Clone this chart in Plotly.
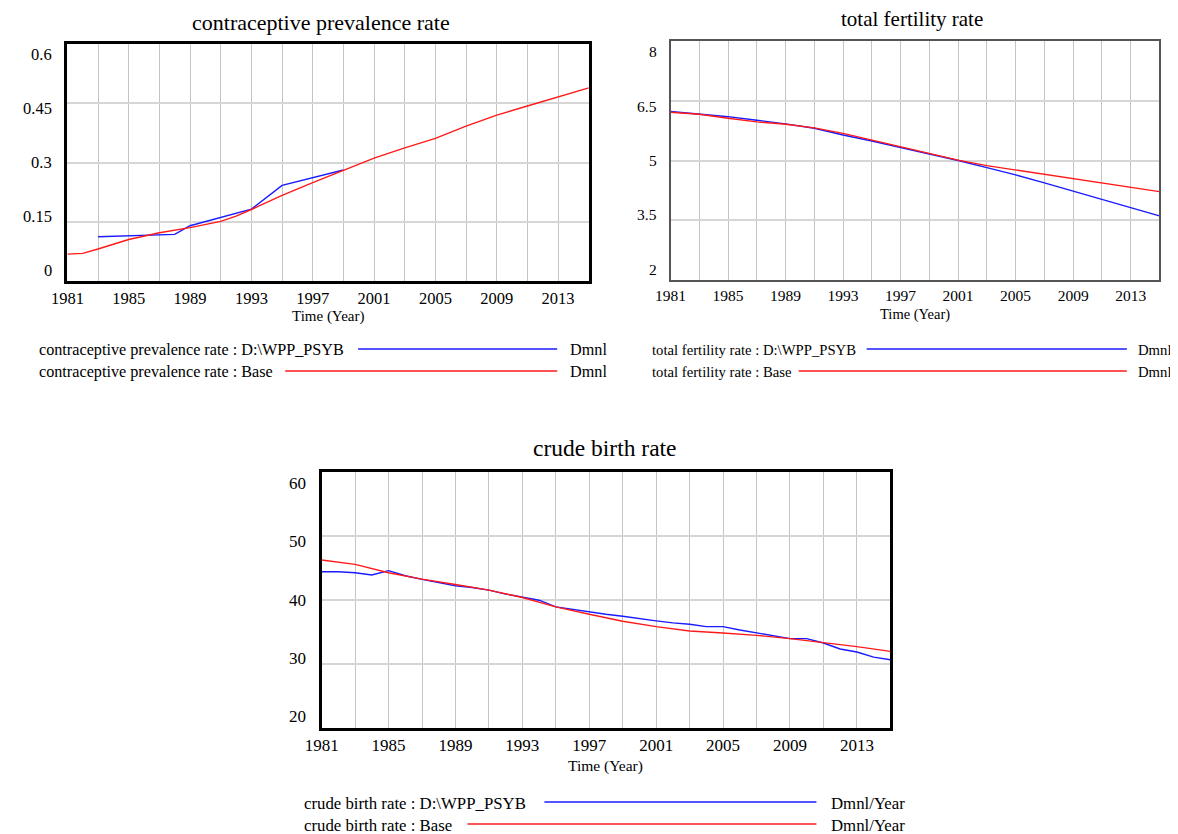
import plotly.graph_objects as go

# ---------------- data ----------------
x_tick_labels = [1981, 1985, 1989, 1993, 1997, 2001, 2005, 2009, 2013]

cpr_ticks = [0, 0.15, 0.3, 0.45, 0.6]
cpr_tick_text = ["0", "0.15", "0.3", "0.45", "0.6"]
cpr_base_years = [1981, 1982, 1983, 1985, 1987, 1988, 1989, 1991, 1992, 1993, 1995,
                  1997, 1999, 2001, 2003, 2005, 2007, 2009, 2011, 2013, 2015]
cpr_base = [0.068, 0.070, 0.081, 0.105, 0.122, 0.128, 0.135, 0.151, 0.164, 0.181, 0.217,
            0.249, 0.279, 0.311, 0.337, 0.361, 0.392, 0.420, 0.443, 0.466, 0.489]
cpr_psyb_years = [1983, 1988, 1989, 1993, 1995, 1999]
cpr_psyb = [0.112, 0.118, 0.140, 0.182, 0.242, 0.281]

tfr_ticks = [2, 3.5, 5, 6.5, 8]
tfr_tick_text = ["2", "3.5", "5", "6.5", "8"]
tfr_years = [1981, 1983, 1985, 1987, 1989, 1991, 1993, 1995, 1997,
             1999, 2001, 2003, 2005, 2007, 2009, 2011, 2013, 2015]
tfr_base = [6.21, 6.16, 6.06, 5.97, 5.91, 5.82, 5.68, 5.51, 5.35,
            5.18, 5.01, 4.87, 4.76, 4.65, 4.54, 4.43, 4.33, 4.22]
tfr_psyb = [6.23, 6.17, 6.10, 6.01, 5.92, 5.81, 5.64, 5.49, 5.33,
            5.17, 5.00, 4.82, 4.64, 4.44, 4.23, 4.03, 3.82, 3.61]

cbr_ticks = [20, 30, 40, 50, 60]
cbr_tick_text = ["20", "30", "40", "50", "60"]
cbr_base_years = tfr_years
cbr_base = [46.25, 45.57, 44.26, 43.27, 42.43, 41.54, 40.39, 38.93, 37.78,
            36.68, 35.84, 35.16, 34.85, 34.48, 33.96, 33.39, 32.71, 31.97]
cbr_psyb_years = list(range(1981, 2016))
cbr_psyb = [44.42, 44.42, 44.26, 43.90, 44.58, 43.79, 43.22, 42.75, 42.22, 41.96,
            41.54, 40.92, 40.39, 39.97, 38.93, 38.51, 38.20, 37.78, 37.46, 37.05,
            36.73, 36.42, 36.20, 35.84, 35.84, 35.32, 34.85, 34.43, 33.96, 33.96,
            33.28, 32.34, 31.87, 31.08, 30.67]

run_psyb = "D:\\WPP_PSYB"
run_base = "Base"

# ---------------- layout helpers ----------------
W, H = 1178, 834
OFF = 8  # the page body adds an 8px margin around the figure
FONT = "Liberation Serif, Times New Roman, serif"
BLUE = "#1a1aff"
RED = "#ff1a1a"


def px(x):
    return (x - OFF) / W


def py(y):
    return 1 - (y - OFF) / H


panels = [
    dict(name="contraceptive prevalence rate", box=(51, 580, 44, 281), rng=(0, 0.6),
         ticks=cpr_ticks, tt=cpr_tick_text, border="#000000", bw=3,
         title_xy=(308, 22), title_size=22, tick_size=16.5, time_size=15, time_y=317,
         ylab_shift=13,
         series=[(cpr_psyb_years, cpr_psyb, BLUE), (cpr_base_years, cpr_base, RED)],
         legend=dict(tx=20, rows=(350, 372), blue=(346, 548), red=(272, 548), unit_x=559,
                     unit="Dmnl", size=16.2)),
    dict(name="total fertility rate", box=(663, 1159, 41, 280), rng=(2, 8),
         ticks=tfr_ticks, tt=tfr_tick_text, border="#555555", bw=2,
         title_xy=(908, 19), title_size=21, tick_size=15.5, time_size=14.5, time_y=315,
         ylab_shift=12,
         series=[(tfr_years, tfr_psyb, BLUE), (tfr_years, tfr_base, RED)],
         legend=dict(tx=642, rows=(350, 372), blue=(862, 1126), red=(793, 1126), unit_x=1135,
                     unit="Dmnl", size=14.7)),
    dict(name="crude birth rate", box=(309, 886, 472, 728), rng=(20, 60),
         ticks=cbr_ticks, tt=cbr_tick_text, border="#000000", bw=3,
         title_xy=(596, 448), title_size=23.5, tick_size=17, time_size=15.5, time_y=766,
         ylab_shift=14,
         series=[(cbr_psyb_years, cbr_psyb, BLUE), (cbr_base_years, cbr_base, RED)],
         legend=dict(tx=289, rows=(803, 825), blue=(535, 811), red=(457, 811), unit_x=824,
                     unit="Dmnl/Year", size=16.8)),
]

fig = go.Figure()
annotations = []
shapes = []
layout = {}

for i, p in enumerate(panels):
    sfx = "" if i == 0 else str(i + 1)
    xa, ya = "x" + sfx, "y" + sfx
    x0, x1, y0, y1 = p["box"]
    for (xs, ys, col) in p["series"]:
        fig.add_trace(go.Scatter(x=xs, y=ys, mode="lines", xaxis=xa, yaxis=ya,
                                 line=dict(color=col, width=1.4), showlegend=False,
                                 hoverinfo="skip"))
    layout["xaxis" + sfx] = dict(
        domain=[px(x0), px(x1)], anchor=ya, range=[1981, 2015],
        tickmode="array", tickvals=x_tick_labels, ticktext=[str(v) for v in x_tick_labels],
        ticks="", showgrid=True, gridcolor="#c4c4c4", gridwidth=1,
        minor=dict(tickmode="linear", tick0=1981, dtick=2, showgrid=True,
                   gridcolor="#c4c4c4", gridwidth=1, ticks=""),
        showline=True, mirror=True, linecolor=p["border"], linewidth=p["bw"],
        zeroline=False, tickfont=dict(family=FONT, size=p["tick_size"], color="#000"),
        fixedrange=True,
    )
    layout["yaxis" + sfx] = dict(
        domain=[py(y1), py(y0)], anchor=xa, range=list(p["rng"]),
        tickmode="array", tickvals=p["ticks"], showticklabels=False,
        showgrid=True, gridcolor="#d6d6d6", gridwidth=1.6,
        showline=True, mirror=True, linecolor=p["border"], linewidth=p["bw"],
        zeroline=False, fixedrange=True,
    )
    # y tick labels, spread inside the box like the original
    n = len(p["tt"])
    for k, t in enumerate(p["tt"]):
        frac = 0.045 + (0.955 - 0.045) * k / (n - 1)
        annotations.append(dict(text=t, xref=xa + " domain", yref=ya + " domain",
                                x=0, y=frac, xanchor="right", yanchor="middle",
                                xshift=-p["ylab_shift"], showarrow=False,
                                font=dict(family=FONT, size=p["tick_size"], color="#000")))
    # title
    tx, ty = p["title_xy"]
    annotations.append(dict(text=p["name"], xref="paper", yref="paper", x=px(tx), y=py(ty),
                            xanchor="center", yanchor="middle", showarrow=False,
                            font=dict(family=FONT, size=p["title_size"], color="#000")))
    # x axis title
    annotations.append(dict(text="Time (Year)", xref=xa + " domain", yref="paper",
                            x=0.5, y=py(p["time_y"]), xanchor="center", yanchor="middle",
                            showarrow=False,
                            font=dict(family=FONT, size=p["time_size"], color="#000")))
    # legend block
    lg = p["legend"]
    for (run, seg, col, ry) in [(run_psyb, lg["blue"], BLUE, lg["rows"][0]),
                                (run_base, lg["red"], RED, lg["rows"][1])]:
        annotations.append(dict(text=f"{p['name']} : {run}", xref="paper", yref="paper",
                                x=px(lg["tx"]), y=py(ry), xanchor="left", yanchor="middle",
                                showarrow=False,
                                font=dict(family=FONT, size=lg["size"], color="#000")))
        shapes.append(dict(type="line", xref="paper", yref="paper",
                           x0=px(seg[0]), x1=px(seg[1]), y0=py(ry - 1), y1=py(ry - 1),
                           line=dict(color=col, width=1.4)))
        annotations.append(dict(text=lg["unit"], xref="paper", yref="paper",
                                x=px(lg["unit_x"]), y=py(ry), xanchor="left", yanchor="middle",
                                showarrow=False,
                                font=dict(family=FONT, size=lg["size"], color="#000")))

fig.update_layout(
    width=W, height=H, autosize=False,
    margin=dict(l=0, r=0, t=0, b=0),
    paper_bgcolor="white", plot_bgcolor="white",
    showlegend=False,
    annotations=annotations, shapes=shapes,
    **layout,
)

fig.write_html("out.html", include_plotlyjs=True)
